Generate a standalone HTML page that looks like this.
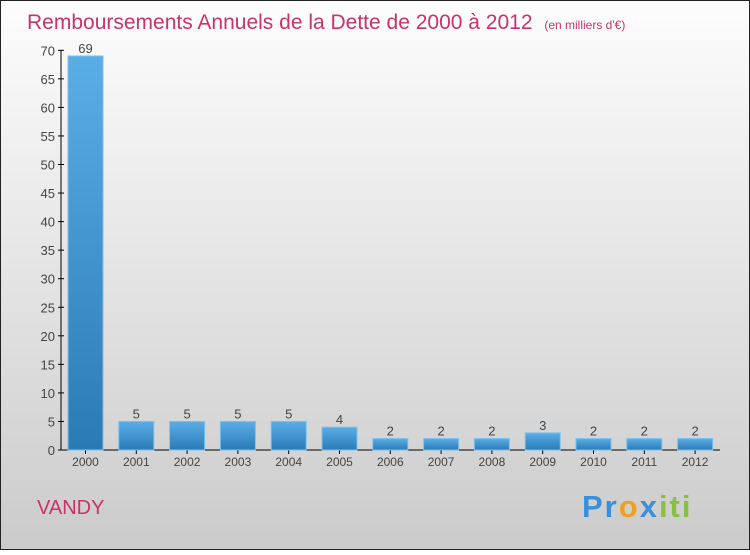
<!DOCTYPE html>
<html><head><meta charset="utf-8"><style>
body{margin:0;width:750px;height:550px;overflow:hidden;font-family:"Liberation Sans",sans-serif}
</style></head><body>
<svg width="750" height="550">
<defs>
<linearGradient id="bg" x1="0" y1="0" x2="0" y2="1"><stop offset="0" stop-color="#fdfdfd"/><stop offset="1" stop-color="#cbcbcb"/></linearGradient>
<linearGradient id="bar" x1="0" y1="0" x2="0" y2="1"><stop offset="0" stop-color="#5aaee6"/><stop offset="1" stop-color="#2a7ab6"/></linearGradient>
</defs>
<rect x="0.5" y="0.5" width="749" height="549" fill="url(#bg)" stroke="#222"/>
<text x="27" y="29" font-size="21" fill="#c8336a">Remboursements Annuels de la Dette de 2000 à 2012 <tspan font-size="12" dx="6">(en milliers d'€)</tspan></text>
<g id="axes"></g>
<g id="bars"></g>
<text x="37" y="514" font-size="20" fill="#c8336a">VANDY</text>
<text x="582" y="517" font-size="31" font-weight="bold" letter-spacing="2"><tspan fill="#3a8fd8">Pr</tspan><tspan fill="#f0a020">o</tspan><tspan fill="#3a8fd8">x</tspan><tspan fill="#88c040">iti</tspan></text>
</svg>
<script>
const categories=["2000","2001","2002","2003","2004","2005","2006","2007","2008","2009","2010","2011","2012"];
const values=[69,5,5,5,5,4,2,2,2,3,2,2,2];
const yTicks=[0,5,10,15,20,25,30,35,40,45,50,55,60,65,70];
const NS="http://www.w3.org/2000/svg";
const y=v=>450-v*5.71;
const x=i=>85.5+i*50.8;
function el(t,a,p){const e=document.createElementNS(NS,t);for(const k in a)e.setAttribute(k,a[k]);p.appendChild(e);return e;}
const ax=document.getElementById('axes'),bg=document.getElementById('bars');
let l=el('line',{x1:61,y1:y(70),x2:61,y2:450,stroke:'#000'},ax);


l=el('line',{x1:61,y1:450,x2:720,y2:450,stroke:'#000'},ax);


yTicks.forEach(v=>{
 el('line',{x1:58,x2:64,y1:y(v),y2:y(v),stroke:'#000'},ax);
 const t=el('text',{x:55,y:y(v)+5,'text-anchor':'end','font-size':13,fill:'#444'},ax);t.textContent=v;
 
 
});
categories.forEach((c,i)=>{
 const r=el('rect',{x:x(i)-17.5,y:y(values[i]),width:35,height:450-y(values[i]),fill:'url(#bar)',stroke:'#7cc0ee','stroke-width':1},bg);
 
 
 const v=el('text',{x:x(i),y:y(values[i])-3,'text-anchor':'middle','font-size':13,fill:'#444'},bg);v.textContent=values[i];
 
 
 el('line',{x1:x(i),x2:x(i),y1:450,y2:454,stroke:'#000'},ax);
 const t=el('text',{x:x(i),y:466,'text-anchor':'middle','font-size':12,fill:'#444'},ax);t.textContent=c;
 
 
});
</script>
</body></html>
